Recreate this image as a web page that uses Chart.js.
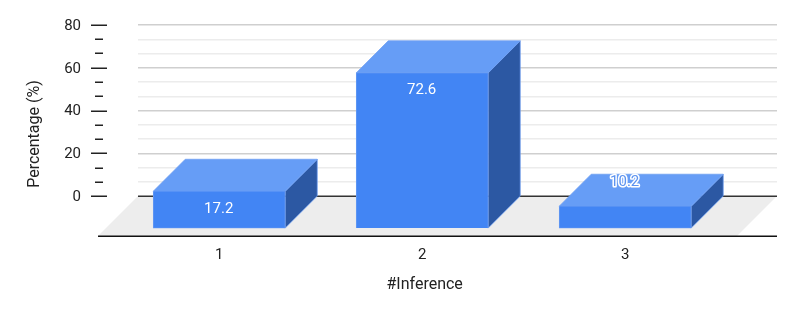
<!DOCTYPE html>
<html><head><meta charset="utf-8">
<script src="https://cdn.jsdelivr.net/npm/chart.js@4"></script>
<style>html,body{margin:0;padding:0;background:#fff}canvas{display:block}</style>
</head><body><canvas id="c" width="793" height="316"></canvas>
<script>
const categories = ['1', '2', '3'];
const categoryPositions = [1, 2, 3];
const percentages = [17.2, 72.6, 10.2];
const yTicks = [0, 6.67, 13.33, 20, 26.67, 33.33, 40, 46.67, 53.33, 60, 66.67, 73.33, 80];
const yLabels = [0, 20, 40, 60, 80];
const xTitle = '#Inference';
const yTitle = 'Percentage (%)';
const depth = 15;
const floorMin = -18.7;
const FONT = 'Roboto';
const isMajor = v => yLabels.includes(v);

const threeD = {
  id: 'threeD',
  beforeDatasetsDraw(chart) {
    const {ctx, scales: {x, y}} = chart;
    const y0 = y.getPixelForValue(0), yb = y.getPixelForValue(floorMin);
    const slant = yb - y0;
    const L = x.left, R = x.right;
    ctx.save();
    ctx.fillStyle = '#ededed';
    ctx.beginPath();
    ctx.moveTo(L - slant, yb); ctx.lineTo(L, y0); ctx.lineTo(R, y0); ctx.lineTo(R - slant, yb);
    ctx.closePath(); ctx.fill();
    ctx.fillStyle = '#333';
    ctx.fillRect(L, Math.round(y0) - 0.5, R - L, 1.5);
    ctx.fillStyle = '#111';
    ctx.fillRect(L - slant, Math.round(yb) - 0.5, R - L + slant, 1.5);
    yTicks.forEach(v => {
      const p = Math.round(y.getPixelForValue(v));
      ctx.fillStyle = '#222';
      if (isMajor(v)) ctx.fillRect(91, p - 0.5, 16, 1.5);
      else ctx.fillRect(95, p - 0.5, 8, 1.5);
    });
    const meta = chart.getDatasetMeta(0);
    meta.data.forEach(bar => {
      const p = bar.getProps(['x', 'y', 'base', 'width']);
      const l = p.x - p.width / 2, r = p.x + p.width / 2;
      const t = Math.min(p.y, p.base), b = Math.max(p.y, p.base);
      const d = b - y.getPixelForValue(0);
      ctx.strokeStyle = '#6f9ff2'; ctx.lineWidth = 0.75;
      ctx.fillStyle = '#2c58a3';
      ctx.beginPath();
      ctx.moveTo(r, t); ctx.lineTo(r + d, t - d); ctx.lineTo(r + d, b - d); ctx.lineTo(r, b);
      ctx.closePath(); ctx.fill(); ctx.stroke();
      ctx.fillStyle = '#669df6';
      ctx.beginPath();
      ctx.moveTo(l, t); ctx.lineTo(l + d, t - d); ctx.lineTo(r + d, t - d); ctx.lineTo(r, t);
      ctx.closePath(); ctx.fill(); ctx.stroke();
    });
    ctx.restore();
  },
  afterDatasetsDraw(chart) {
    const {ctx, scales: {x, y}} = chart;
    const meta = chart.getDatasetMeta(0);
    ctx.save();
    ctx.font = '15px ' + FONT;
    ctx.textAlign = 'center'; ctx.textBaseline = 'middle';
    meta.data.forEach((bar, i) => {
      const v = percentages[i];
      const p = bar.getProps(['x', 'y', 'base']);
      const top = Math.min(p.y, p.base);
      const tx = p.x - 0.5;
      if (i === 2) {
        ctx.lineJoin = 'round';
        ctx.lineWidth = 3; ctx.strokeStyle = '#ffffff';
        ctx.strokeText(v, tx, top - 24);
        ctx.fillStyle = '#5c93f0';
        ctx.fillText(v, tx, top - 24);
      } else {
        ctx.fillStyle = '#fff';
        ctx.fillText(v, tx, top + 17.5);
      }
    });
    // axis titles, placed off the axes because the floor shifts their centres
    ctx.fillStyle = '#222';
    ctx.font = '16px ' + FONT;
    ctx.fillText(xTitle, x.getPixelForValue(2) + 2.5, 285);
    ctx.translate(34.5, y.getPixelForValue(29));
    ctx.rotate(-Math.PI / 2);
    ctx.fillText(yTitle, 0, 0);
    ctx.restore();
  }
};

new Chart(document.getElementById('c'), {
  type: 'bar',
  data: {
    datasets: [{
      data: categoryPositions.map((c, i) => ({x: c, y: [-depth, percentages[i] - depth]})),
      backgroundColor: '#4285f4',
      borderColor: '#6f9ff2',
      borderWidth: 0.75,
      barThickness: 132
    }]
  },
  plugins: [threeD],
  options: {
    responsive: false,
    animation: false,
    layout: {padding: {top: 25, right: 16, bottom: 0, left: 0}},
    plugins: {legend: {display: false}, tooltip: {enabled: false}},
    scales: {
      x: {
        type: 'linear',
        offset: false,
        min: 0.6, max: 3.748,
        afterBuildTicks: s => { s.ticks = categoryPositions.map(v => ({value: v})); },
        afterFit: s => { s.height = 80; s.paddingLeft = 0; s.paddingRight = 0; },
        grid: {display: false},
        border: {display: false},
        ticks: {
          autoSkip: false, maxRotation: 0, padding: 2, color: '#222',
          font: {family: FONT, size: 15},
          callback: v => categories[categoryPositions.indexOf(v)] ?? ''
        }
      },
      y: {
        min: floorMin, max: 80,
        afterBuildTicks: s => { s.ticks = yTicks.map(v => ({value: v})); },
        afterFit: s => { s.width = 138; s.paddingTop = 0; s.paddingBottom = 0; },
        border: {display: false},
        grid: {
          drawTicks: false, tickLength: 0, lineWidth: 1.5,
          color: c => {
            const v = c.tick.value;
            return v === 0 ? 'rgba(0,0,0,0)' : isMajor(v) ? '#cfcfcf' : '#ececec';
          }
        },
        ticks: {
          autoSkip: false, padding: 57, color: '#222', labelOffset: 1,
          font: {family: FONT, size: 15},
          callback: v => isMajor(v) ? String(v) : ''
        }
      }
    }
  }
});
</script></body></html>
